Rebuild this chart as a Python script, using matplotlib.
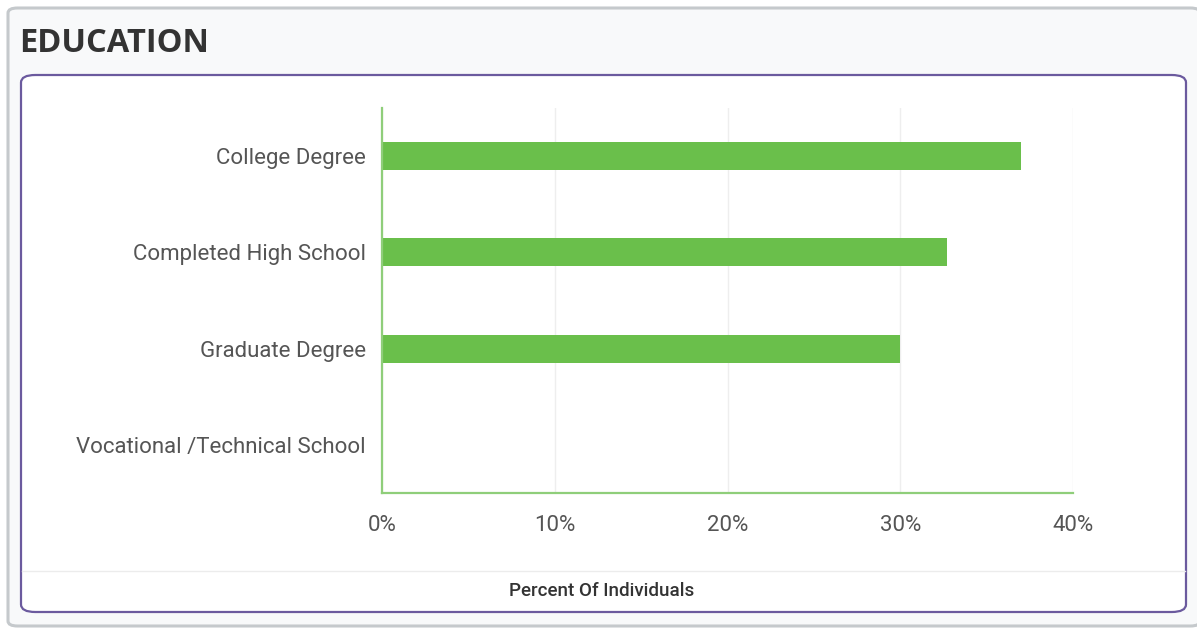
import matplotlib.pyplot as plt
from matplotlib.patches import FancyBboxPatch
from matplotlib.lines import Line2D

# data
categories = ['College Degree', 'Completed High School', 'Graduate Degree',
              'Vocational /Technical School']
values = [37.0, 32.7, 30.0, 0.0]
ticks = [0, 10, 20, 30, 40]
tick_labels = ['0%', '10%', '20%', '30%', '40%']

W, H = 1197, 628
fig = plt.figure(figsize=(W / 100, H / 100), dpi=100)
fig.patch.set_facecolor('white')


def fx(x):
    return x / W


def fy(y):
    return 1 - y / H


# outer grey panel
outer = FancyBboxPatch((fx(8), fy(626)), fx(1200) - fx(8), fy(8) - fy(626),
                       boxstyle='round,pad=0,rounding_size=0.008',
                       transform=fig.transFigure, facecolor='#f8f9fa',
                       edgecolor='#c5c9cc', linewidth=2.2, zorder=0)
fig.patches.append(outer)

# inner white card with purple border
inner = FancyBboxPatch((fx(21), fy(612)), fx(1186) - fx(21), fy(75) - fy(612),
                       boxstyle='round,pad=0,rounding_size=0.012',
                       transform=fig.transFigure, facecolor='white',
                       edgecolor='#6b5a9e', linewidth=1.6, zorder=0.5)
fig.patches.append(inner)

# separator above the axis title
fig.lines.append(Line2D([fx(22), fx(1185)], [fy(571), fy(571)],
                        transform=fig.transFigure, color='#ececec', lw=1,
                        zorder=0.6))

fig.text(fx(19), fy(44), 'EDUCATION', fontsize=23.5, fontweight='bold',
         color='#333333', family='Open Sans', va='center', ha='left')

ax = fig.add_axes([fx(382), fy(493), fx(1073) - fx(382), fy(108) - fy(493)])
ax.set_zorder(5)
ax.set_facecolor('none')

y = list(range(len(categories)))
ax.barh(y, values, height=0.29, color='#6abf4b', zorder=3)
ax.set_ylim(len(categories) - 0.5, -0.5)
ax.set_xlim(0, 40)

ax.set_yticks(y)
ax.set_yticklabels(categories)
ax.set_xticks(ticks)
ax.set_xticklabels(tick_labels)
for lab in ax.get_yticklabels() + ax.get_xticklabels():
    lab.set_family('Roboto')
    lab.set_fontsize(16)
    lab.set_color('#555555')
ax.tick_params(axis='y', length=0, pad=11.5)
ax.tick_params(axis='x', length=0, pad=16)

ax.grid(axis='x', color='#eeeeee', lw=1, zorder=0)
for s in ['top', 'right']:
    ax.spines[s].set_visible(False)
for s in ['left', 'bottom']:
    ax.spines[s].set_color('#8fce7a')
    ax.spines[s].set_linewidth(1.6)
    ax.spines[s].set_zorder(4)

fig.text(fx(602), fy(591), 'Percent Of Individuals', fontsize=13.5,
         fontweight='medium', color='#333333', family='Roboto',
         ha='center', va='center')

fig.savefig('out.png', dpi=100)
